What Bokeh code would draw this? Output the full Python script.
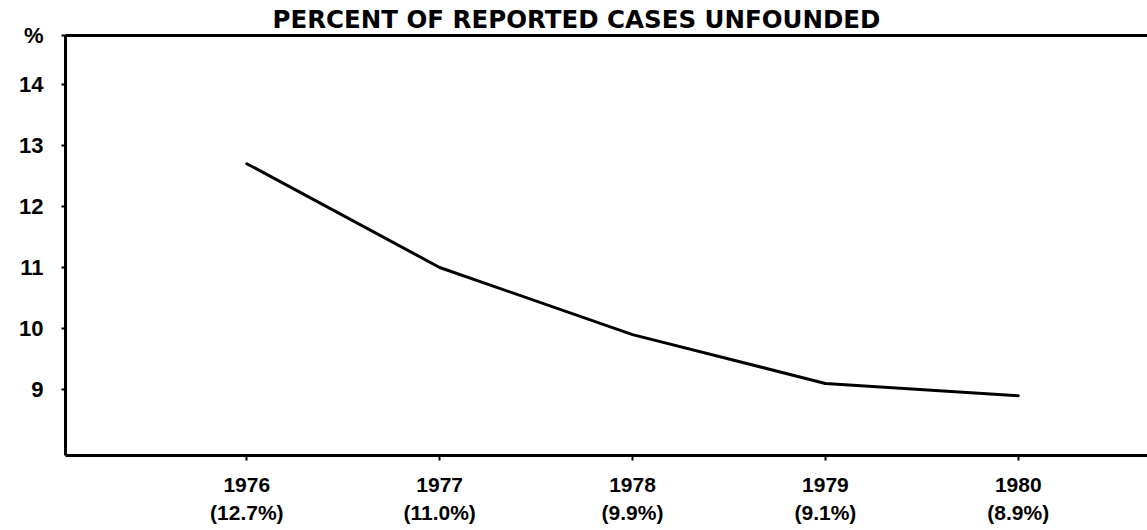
from bokeh.plotting import figure
from bokeh.models import LinearAxis, Range1d, FixedTicker
from bokeh.embed import file_html
from bokeh.resources import INLINE

years = [1976, 1977, 1978, 1979, 1980]
percent = [12.7, 11.0, 9.9, 9.1, 8.9]
y_ticks = [9, 10, 11, 12, 13, 14]
y_top = 14.8
y_unit_label = "%"
title_text = "PERCENT OF REPORTED CASES UNFOUNDED"
pct_labels = ["(%.1f%%)" % v for v in percent]

FONT = "Liberation Sans"
TFONT = "DejaVu Sans"

p = figure(width=1147, height=526, output_backend="svg", toolbar_location=None,
           x_range=Range1d(1975.06, 1980.67), y_range=Range1d(7.92, y_top),
           min_border_left=65, min_border_right=0, min_border_top=35, min_border_bottom=10,
           x_axis_location=None, y_axis_location=None)
p.outline_line_color = None
p.grid.visible = False
p.background_fill_color = "white"
p.border_fill_color = "white"

p.title.text = title_text
p.title.align = "left"
p.title.text_font = TFONT
p.title.text_font_style = "bold"
p.title.text_font_size = "24.5px"
p.title.text_color = "black"
p.title.offset = 207
p.title.standoff = 4

p.line(years, percent, line_width=3, line_color="black", line_join="round", line_cap="round")

# left axis (with the "%" unit marker at the top of the axis)
yax = LinearAxis(ticker=FixedTicker(ticks=y_ticks + [y_top]))
yax.major_label_overrides = {y_top: y_unit_label}
yax.axis_line_width = 3
yax.axis_line_color = "black"
yax.major_tick_line_width = 2
yax.major_tick_out = 4
yax.major_tick_in = 0
yax.minor_tick_line_color = None
yax.major_label_text_font = FONT
yax.major_label_text_font_style = "bold"
yax.major_label_text_font_size = "22px"
yax.major_label_text_color = "black"
yax.major_label_standoff = 18
p.add_layout(yax, "left")

# bottom axis (years)
xax = LinearAxis(ticker=FixedTicker(ticks=years))
xax.major_label_overrides = {y: str(y) for y in years}
xax.axis_line_width = 3
xax.axis_line_color = "black"
xax.major_tick_line_width = 2
xax.major_tick_out = 5
xax.major_tick_in = 0
xax.minor_tick_line_color = None
xax.major_label_text_font = FONT
xax.major_label_text_font_style = "bold"
xax.major_label_text_font_size = "21px"
xax.major_label_text_color = "black"
xax.major_label_standoff = 17
p.add_layout(xax, "below")

# second row of labels (percentages)
xax2 = LinearAxis(ticker=FixedTicker(ticks=years))
xax2.major_label_overrides = {y: s for y, s in zip(years, pct_labels)}
xax2.axis_line_color = None
xax2.major_tick_line_color = None
xax2.minor_tick_line_color = None
xax2.major_label_text_font = FONT
xax2.major_label_text_font_style = "bold"
xax2.major_label_text_font_size = "21px"
xax2.major_label_text_color = "black"
xax2.major_label_standoff = 0
p.add_layout(xax2, "below")

# top border line
topax = LinearAxis(ticker=FixedTicker(ticks=[]))
topax.axis_line_width = 3
topax.axis_line_color = "black"
topax.major_tick_line_color = None
topax.minor_tick_line_color = None
topax.major_label_text_font_size = "0px"
p.add_layout(topax, "above")

open("out.html", "w").write(file_html(p, INLINE))
